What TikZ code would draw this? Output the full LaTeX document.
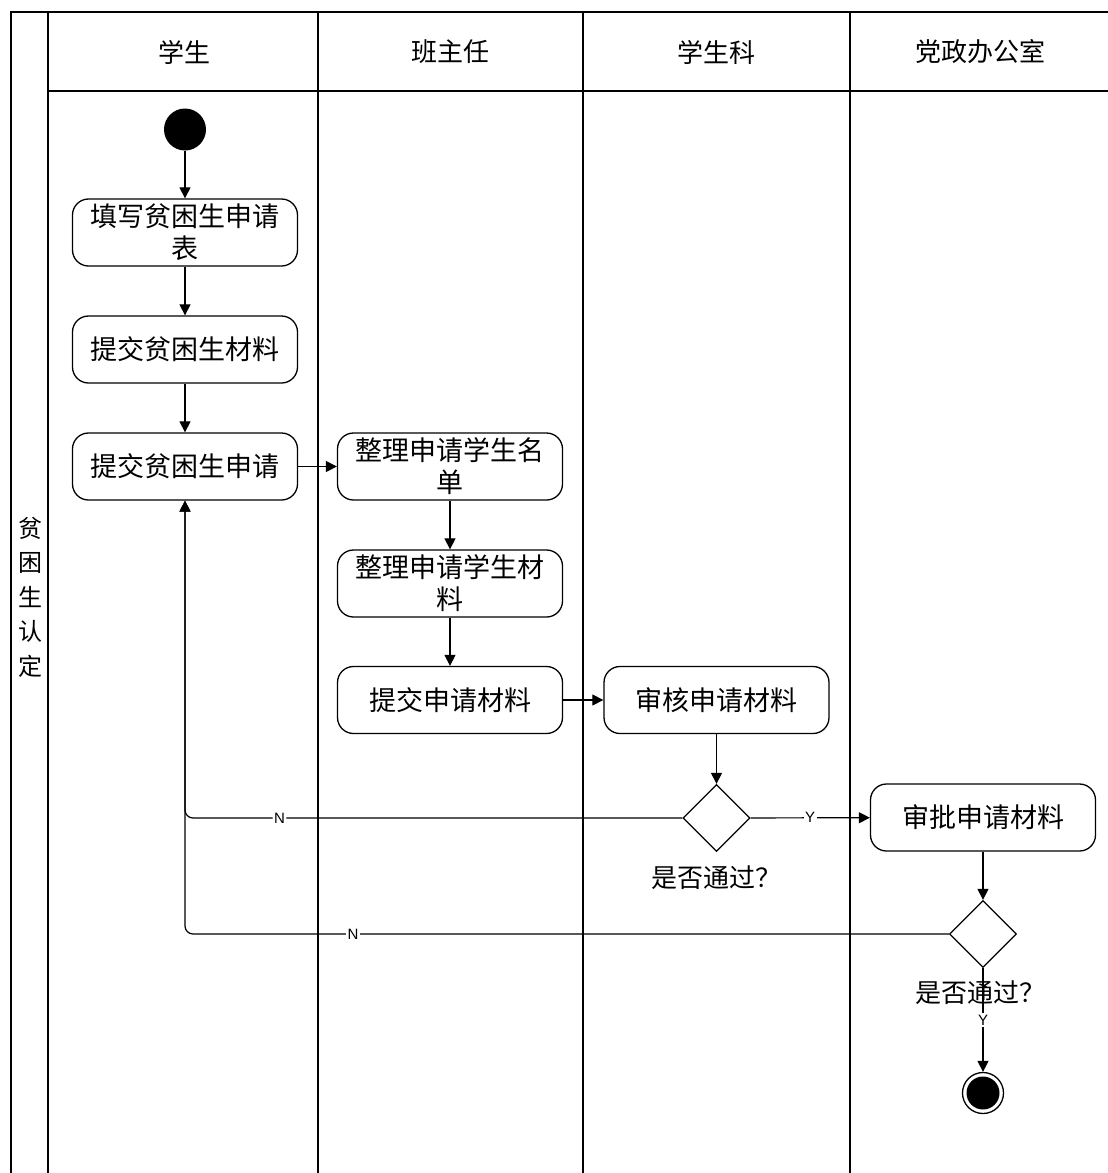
\documentclass[tikz,border=0pt]{standalone}
\usepackage{fontspec}
\setmainfont{Noto Sans CJK SC}
\newfontfamily\latfont{Liberation Sans}
\usetikzlibrary{arrows.meta,shapes.geometric}

\begin{document}
\begin{tikzpicture}[x=1pt,y=-1pt,
 laneline/.style={line width=1.6pt},
 act/.style={draw,line width=1.3pt,rounded corners=16pt,minimum width=225pt,minimum height=67pt,inner sep=0pt,align=center,font=\fontsize{27}{32}\selectfont},
 dec/.style={draw,line width=1.3pt,diamond,minimum width=67pt,minimum height=67pt,inner sep=0pt},
 flow/.style={line width=1.2pt,-{Triangle[length=11pt,width=11pt]}},
 lbl/.style={fill=white,inner sep=1.5pt,font=\latfont\fontsize{15}{15}\selectfont},
 head/.style={font=\fontsize{26}{30}\selectfont},
 qtext/.style={font=\fontsize{26}{30}\selectfont}]

\useasboundingbox (0,0) rectangle (1108,1173);

% swimlane frame
\draw[laneline] (11,1180) -- (11,12) -- (1112,12);
\draw[laneline] (48,12) -- (48,1180);
\draw[laneline] (48,91) -- (1112,91);
\foreach \x in {318,583,850} \draw[laneline] (\x,12) -- (\x,1180);

% headers
\node[head] (h1) at (184,52) {学生};
\node[head] (h2) at (450,52) {班主任};
\node[head] (h3) at (716,52) {学生科};
\node[head] (h4) at (980,52) {党政办公室};
\node[align=center,font=\fontsize{24}{34.5}\selectfont] (pool) at (30,597) {贫\\困\\生\\认\\定};

% activities
\node[circle,fill,minimum size=42pt,inner sep=0pt] (start) at (185,129.5) {};
\node[act] (b1) at (185,232.5) {填写贫困生申请\\表};
\node[act] (b2) at (185,349.5) {提交贫困生材料};
\node[act] (b3) at (185,466.5) {提交贫困生申请};
\node[act] (b4) at (450,466.5) {整理申请学生名\\单};
\node[act] (b5) at (450,583.5) {整理申请学生材\\料};
\node[act] (b6) at (450,700) {提交申请材料};
\node[act] (b7) at (716.5,700) {审核申请材料};
\node[dec] (d1) at (716.5,818) {};
\node[qtext] (q1) at (716,878) {是否通过？};
\node[act] (b8) at (983,817.5) {审批申请材料};
\node[dec] (d2) at (983,934) {};
\node[qtext] (q2) at (980,993) {是否通过？};
\node[circle,draw,line width=1.3pt,minimum size=41pt,inner sep=0pt] (stop) at (983,1093) {};
\fill (stop.center) circle (16.5pt);

% flows
\draw[flow] (start) -- (b1);
\draw[flow] (b1) -- (b2);
\draw[flow] (b2) -- (b3);
\draw[flow] (b3) -- (b4);
\draw[flow] (b4) -- (b5);
\draw[flow] (b5) -- (b6);
\draw[flow] (b6) -- (b7);
\draw[flow] (b7) -- (d1);
\draw[flow] (d1) -- node[lbl] {Y} (b8);
\draw[flow,rounded corners=8pt] (d1.west) -- node[lbl,pos=0.81] {N} (b3.south |- d1.west) -- (b3.south);
\draw[flow,rounded corners=8pt] (d2.west) -- node[lbl,pos=0.78] {N} (b3.south |- d2.west) -- (b3.south);
\draw[flow] (b8) -- (d2);
\draw[flow] (d2) -- node[lbl,pos=0.5] {Y} (stop);
\end{tikzpicture}
\end{document}
